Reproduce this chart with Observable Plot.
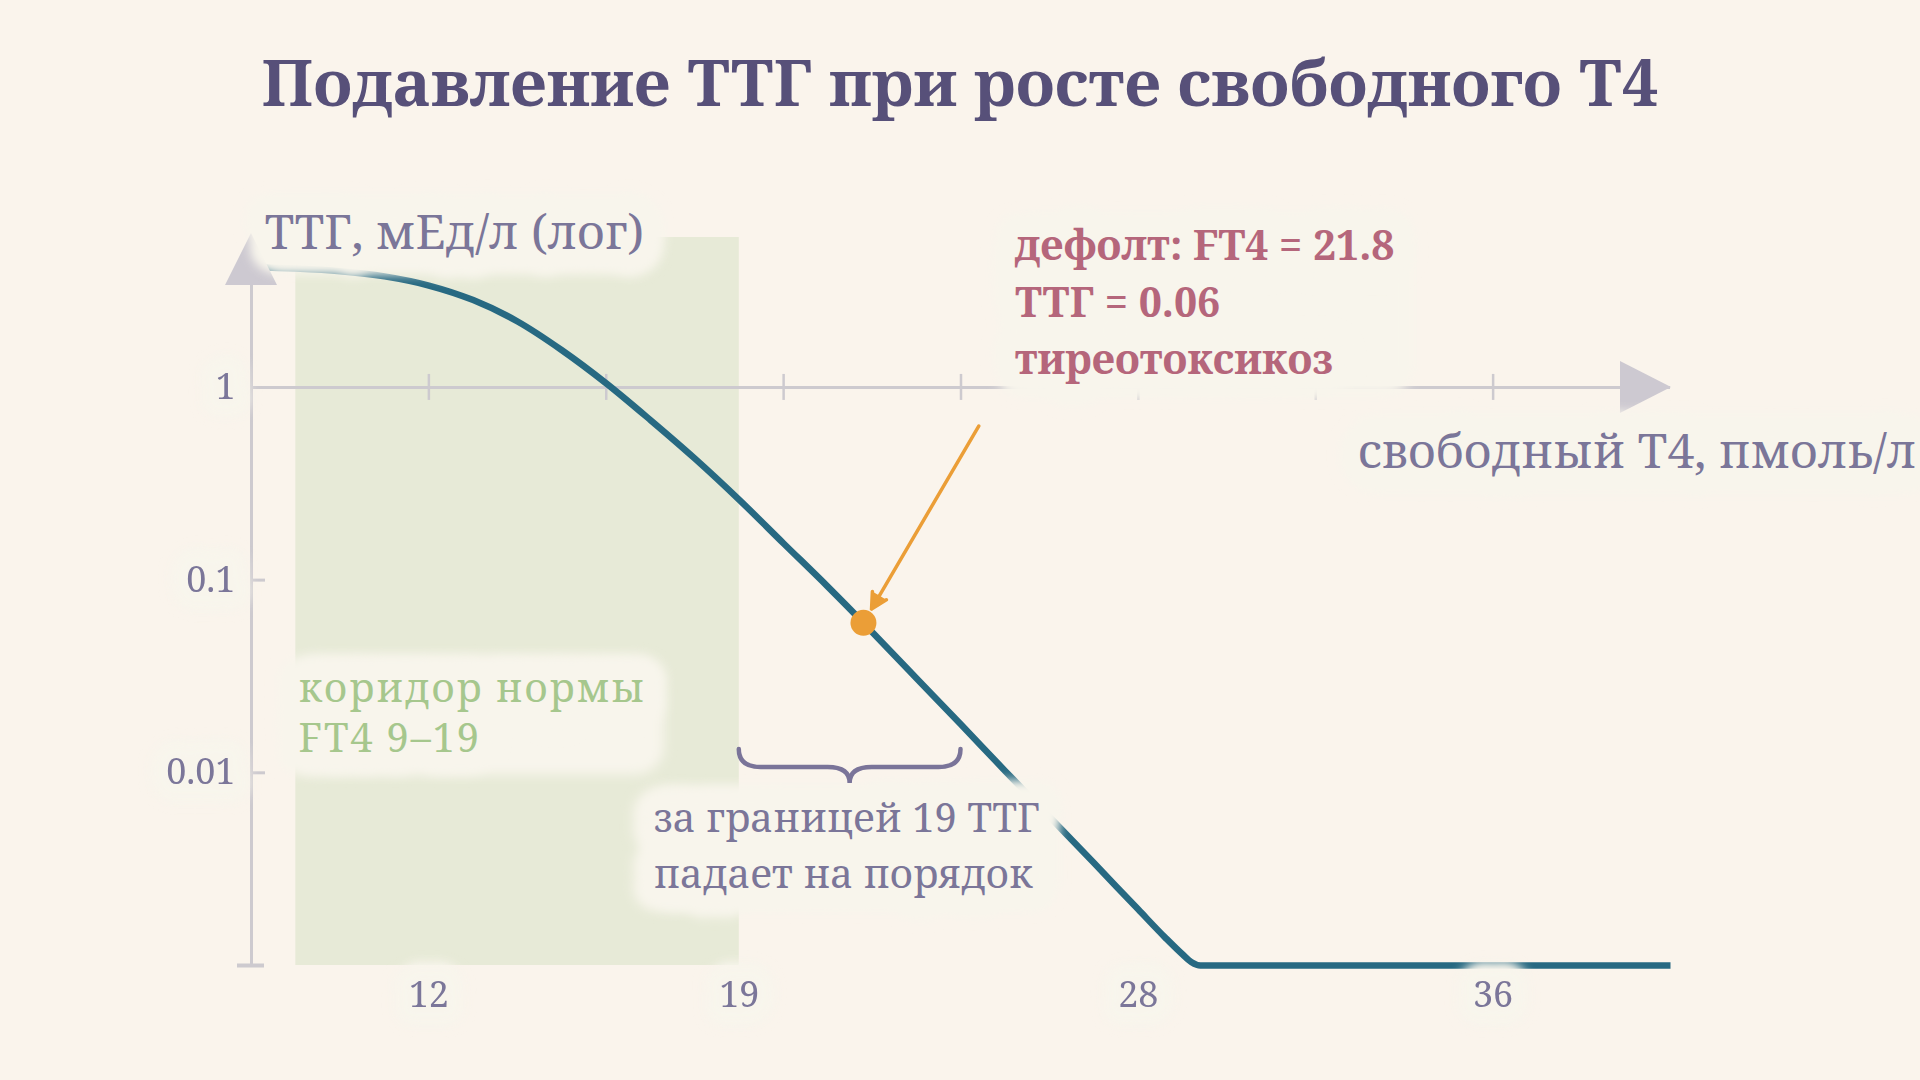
<!DOCTYPE html>
<html>
<head>
<meta charset="utf-8">
<script src="https://cdn.jsdelivr.net/npm/d3@7"></script>
<script src="https://cdn.jsdelivr.net/npm/@observablehq/plot@0.6"></script>
<style>
  html, body { margin: 0; padding: 0; background: #faf4ec; }
  body { width: 1920px; height: 1080px; overflow: hidden; }
  #title {
    height: 150px; box-sizing: border-box; margin: 0;
    padding-top: 49px; text-align: center;
    font-family: "Noto Serif", "DejaVu Serif", serif;
    font-weight: 700; font-size: 64.5px; line-height: 64px;
    color: #575079;
  }
  #chart svg { display: block; }
</style>
</head>
<body>
<div id="title">Подавление ТТГ при росте свободного Т4</div>
<div id="chart"></div>
<script>
// ---- data ----
const ft4 = [8, 9, 10, 11, 12, 13, 14, 15, 16, 17, 18, 19, 20, 21, 21.8, 22, 23, 24, 25, 26, 27, 28, 28.6, 29, 29.2, 29.4, 29.7, 30, 32, 34, 36, 38, 40];
const tsh = [4.21, 4.14, 4.01, 3.77, 3.38, 2.84, 2.2, 1.56, 1.05, 0.676, 0.427, 0.261, 0.155, 0.0923, 0.06, 0.0537, 0.0309, 0.0178, 0.0102, 0.0059, 0.0034, 0.00195, 0.0014, 0.00114, 0.00104, 0.001, 0.001, 0.001, 0.001, 0.001, 0.001, 0.001, 0.001];
const xTickMarks = [12, 16, 20, 24, 28, 32, 36];
const xTickLabels = [12, 19, 28, 36];
const yTickLabels = [1, 0.1, 0.01];
const yTickMarks = [0.1, 0.01];
const yFloor = 0.001;
const xDomain = [8, 40];
const yDomain = [0.001, 6];
const normRange = [9, 19];
const defaultPoint = [{ft4: 21.8, tsh: 0.06}];
const arrowFrom = [{ft4: 24.4, tsh: 0.63}];
const braceRange = [19, 24];
const braceY = 0.0132;

const yLabel = [{text: "ТТГ, мЕд/л (лог)", x: 8, y: 5.2}];
const xLabel = [{text: "свободный Т4, пмоль/л", x: 32.95, y: 0.38}];
const noteDefault = [{text: "дефолт: FT4 = 21.8\nТТГ = 0.06\nтиреотоксикоз", x: 25.21, y: 1.18}];
const noteNorm = [{text: "коридор нормы\nFT4 9–19", x: 9.06, y: 0.01276}];
const noteBeyond = [{text: "за границей 19 ТТГ\nпадает на порядок", x: 17.07, y: 0.00251}];

// ---- style ----
const FONT = '"Noto Serif", "DejaVu Serif", serif';
const BAND = "#e7ead7", HALO = "#f8f5ec", AXIS = "#cdcacf", HEAD = "#cdc9d1";
const CURVE = "#276982", MUTED = "#7b7699", PINK = "#b5667b", GREEN = "#a6c78d";
const ORANGE = "#eb9e37", BRACE = "#7a7499";

const halos = [], texts = [];
function label(data, opts, haloWidth = 40) {
  halos.push(Plot.text(data, {...opts, fill: HALO, stroke: HALO, strokeWidth: haloWidth, strokeLinejoin: "round"}));
  texts.push(Plot.text(data, opts));
}

label(yLabel, {x: "x", y: "y", text: "text", dx: 13, textAnchor: "start", lineAnchor: "bottom", fontSize: 48, fill: MUTED});
label(xLabel, {x: "x", y: "y", text: "text", textAnchor: "start", lineAnchor: "bottom", fontSize: 48, fill: MUTED});
label(noteDefault, {x: "x", y: "y", text: "text", textAnchor: "start", lineAnchor: "bottom", fontSize: 41, fontWeight: 700, lineHeight: 1.38, fill: PINK}, 44);
label(noteNorm, {x: "x", y: "y", text: "text", textAnchor: "start", lineAnchor: "bottom", fontSize: 40, lineHeight: 1.27, fill: GREEN}, 44);
label(noteBeyond, {x: "x", y: "y", text: "text", textAnchor: "start", lineAnchor: "bottom", fontSize: 40, lineHeight: 1.4, fill: MUTED}, 44);
label(xTickLabels, {x: d => d, y: yFloor, text: d => String(d), dy: 41, textAnchor: "middle", lineAnchor: "bottom", fontSize: 36, fill: MUTED}, 34);
label(yTickLabels, {x: xDomain[0], y: d => d, text: d => String(d), dx: -16, textAnchor: "end", lineAnchor: "middle", fontSize: 36, fill: MUTED}, 34);

const plot = Plot.plot({
  width: 1920, height: 930,
  marginTop: 87, marginBottom: 115, marginLeft: 251, marginRight: 250,
  x: {domain: xDomain, axis: null},
  y: {type: "log", domain: yDomain, axis: null},
  style: {background: "transparent", fontFamily: FONT},
  marks: [
    Plot.rect([normRange], {x1: d => d[0], x2: d => d[1], y1: yDomain[0], y2: yDomain[1], fill: BAND}),
    Plot.ruleX([xDomain[0]], {y1: yFloor, y2: yDomain[1], stroke: AXIS, strokeWidth: 3}),
    Plot.ruleY([1], {x1: xDomain[0], x2: xDomain[1], stroke: AXIS, strokeWidth: 3}),
    Plot.ruleX(xTickMarks, {x: d => d, y1: 1, y2: 1, insetTop: -13, insetBottom: -13, stroke: AXIS, strokeWidth: 2.5}),
    Plot.ruleY(yTickMarks, {y: d => d, x1: xDomain[0], x2: xDomain[0], insetRight: -14, stroke: AXIS, strokeWidth: 3}),
    Plot.ruleY([yFloor], {y: d => d, x1: xDomain[0], x2: xDomain[0], insetLeft: -14, insetRight: -13, stroke: AXIS, strokeWidth: 4}),
    Plot.line(ft4, {x: ft4, y: tsh, stroke: CURVE, strokeWidth: 6.5, curve: "monotone-x", strokeLinecap: "butt"}),
    ...halos,
    ...texts,
    Plot.arrow(arrowFrom, {x1: "ft4", y1: "tsh", x2: () => defaultPoint[0].ft4, y2: () => defaultPoint[0].tsh,
      insetEnd: 16, stroke: ORANGE, fill: ORANGE, strokeWidth: 3.5, headLength: 7.5, headAngle: 55}),
    Plot.dot(defaultPoint, {x: "ft4", y: "tsh", r: 13, fill: ORANGE})
  ]
});

document.getElementById("chart").appendChild(plot);

// ---- post-processing (positions from Plot's own scales) ----
const sx = plot.scale("x"), sy = plot.scale("y");
const X = v => sx.apply(v), Y = v => sy.apply(v);
const svg = d3.select(plot);

const defs = svg.insert("defs", ":first-child");
defs.append("filter").attr("id", "softHalo")
  .attr("filterUnits", "userSpaceOnUse")
  .attr("x", 0).attr("y", 0).attr("width", 1920).attr("height", 930)
  .append("feGaussianBlur").attr("stdDeviation", 6);

const haloGroups = svg.selectAll("g").filter(function () { return this.getAttribute("stroke") === HALO; });
haloGroups.attr("filter", "url(#softHalo)");
const firstHalo = haloGroups.node();

// letter spacing of the corridor note (wider in the reference)
svg.selectAll("text").filter(function () { return this.textContent.startsWith("коридор"); })
  .style("letter-spacing", "1.8px");

// axis arrowheads
const ax = X(xDomain[0]), ayTop = Y(yDomain[1]);
svg.insert("path", () => firstHalo)
  .attr("d", `M${ax},${ayTop - 4}L${ax - 26},${ayTop + 48}L${ax + 26},${ayTop + 48}Z`)
  .attr("fill", HEAD);
const xr = X(xDomain[1]), y1 = Y(1);
svg.insert("path", () => firstHalo)
  .attr("d", `M${xr + 1},${y1}L${xr - 50},${y1 - 26}L${xr - 50},${y1 + 26}Z`)
  .attr("fill", HEAD);

// rounded soft plates under the labels (box of each rendered label)
const plates = svg.insert("g", () => firstHalo).attr("filter", "url(#softHalo)");
const box = plot.getBoundingClientRect();
svg.selectAll("text").filter(function () { return this.parentNode.getAttribute("stroke") !== HALO; }).each(function () {
  const b = this.getBoundingClientRect();
  if (!b.width) return;
  const small = b.width < 90;
  const pl = small ? 6 : 10, pr = small ? 8 : 18, pt = small ? 4 : 3, pb = small ? 6 : 10;
  plates.append("rect")
    .attr("x", b.left - box.left - pl).attr("y", b.top - box.top - pt)
    .attr("width", b.width + pl + pr).attr("height", b.height + pt + pb)
    .attr("rx", small ? 16 : 28).attr("fill", HALO);
});

// brace under 19–24
const bx1 = X(braceRange[0]), bx2 = X(braceRange[1]), by = Y(braceY);
const bm = (bx1 + bx2) / 2, bar = by + 18, cusp = by + 34, q = 22;
svg.append("path")
  .attr("d", `M${bx1},${by} Q${bx1},${bar} ${bx1 + q},${bar} L${bm - q},${bar} Q${bm},${bar} ${bm},${cusp} Q${bm},${bar} ${bm + q},${bar} L${bx2 - q},${bar} Q${bx2},${bar} ${bx2},${by}`)
  .attr("fill", "none").attr("stroke", BRACE).attr("stroke-width", 4.5).attr("stroke-linecap", "round");
</script>
</body>
</html>
